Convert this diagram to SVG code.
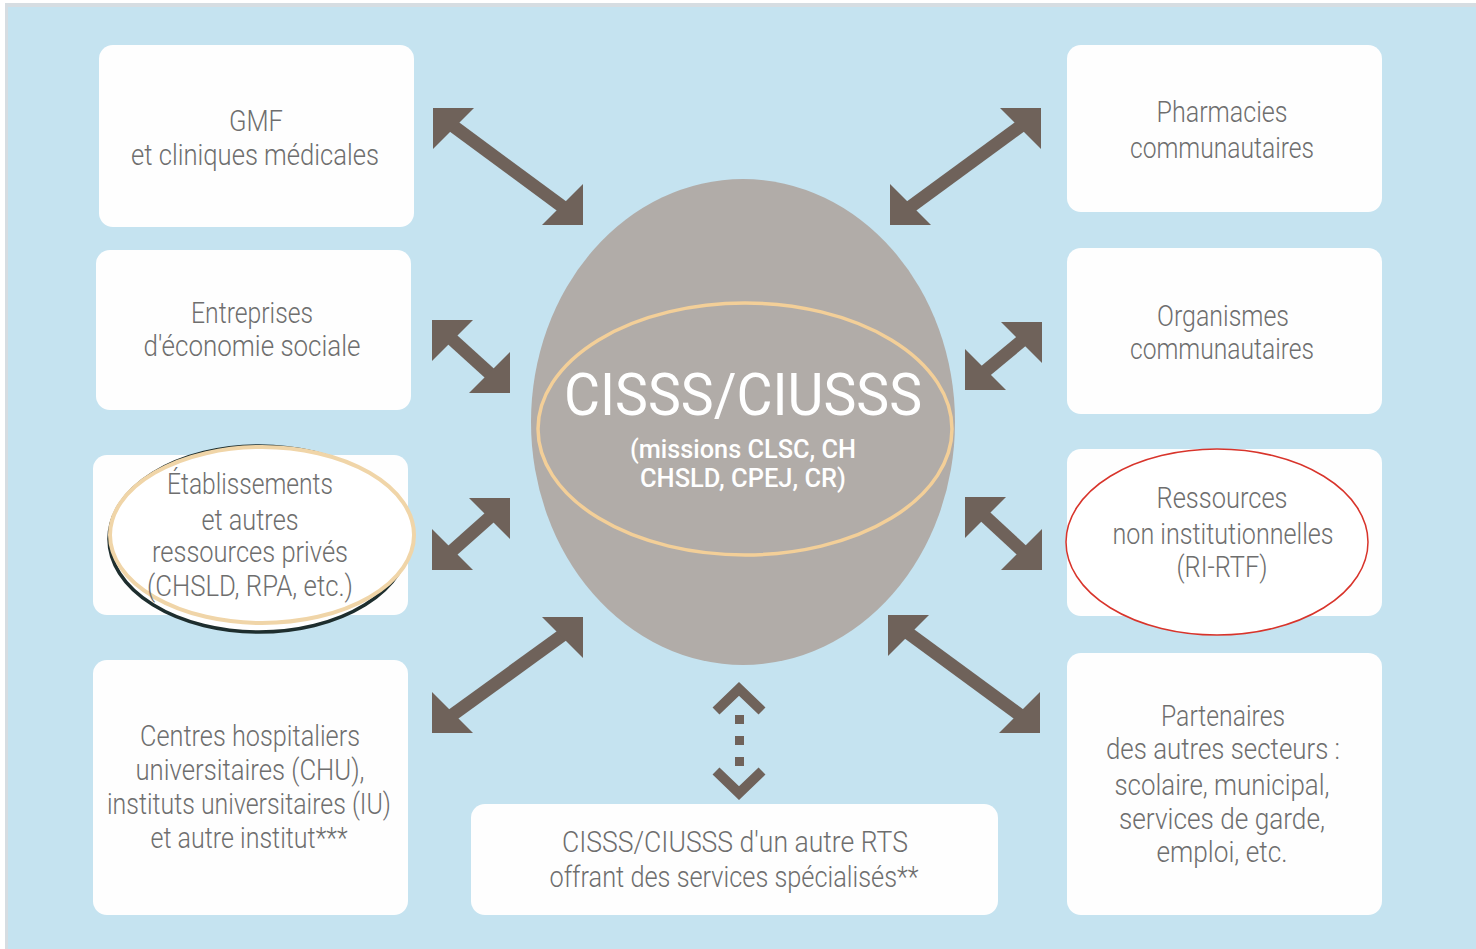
<svg xmlns="http://www.w3.org/2000/svg" width="1476" height="949" viewBox="0 0 1476 949">
<style>
.box{fill:#fefefe}
.t{font-family:Roboto,"Liberation Sans",sans-serif;font-weight:300;font-size:29px;fill:#6e6e6e;text-anchor:middle}
.ar polygon{fill:#6f625a}
.ar line{stroke:#6f625a;stroke-width:13}
.ct{font-family:Roboto,"Liberation Sans",sans-serif;fill:#ffffff;text-anchor:middle}
</style>
<rect x="0" y="0" width="1476" height="949" fill="#ffffff"/>
<rect x="5" y="3" width="1471" height="946" fill="#d6dde2"/>
<rect x="8" y="7" width="1468" height="942" fill="#c5e3f0"/>

<g id="connectors" class="ar">
<g id="a1"><line x1="445" y1="120" x2="571" y2="213"/><polygon points="433,108 474,108 433,149"/><polygon points="583,225 542,225 583,184"/></g>
<g id="a2"><line x1="444" y1="332" x2="498" y2="381"/><polygon points="432,320 473,320 432,361"/><polygon points="510,393 469,393 510,352"/></g>
<g id="a3"><line x1="444" y1="558" x2="498" y2="510"/><polygon points="432,570 473,570 432,529"/><polygon points="510,498 469,498 510,539"/></g>
<g id="a4"><line x1="444" y1="721" x2="571" y2="629"/><polygon points="432,733 473,733 432,692"/><polygon points="583,617 542,617 583,658"/></g>
<g id="a5"><line x1="902" y1="213" x2="1029" y2="120"/><polygon points="890,225 931,225 890,184"/><polygon points="1041,108 1000,108 1041,149"/></g>
<g id="a6"><line x1="977" y1="378" x2="1030" y2="334"/><polygon points="965,390 1006,390 965,349"/><polygon points="1042,322 1001,322 1042,363"/></g>
<g id="a7"><line x1="977" y1="509" x2="1030" y2="558"/><polygon points="965,497 1006,497 965,538"/><polygon points="1042,570 1001,570 1042,529"/></g>
<g id="a8"><line x1="900" y1="627" x2="1028" y2="721"/><polygon points="888,615 929,615 888,656"/><polygon points="1040,733 999,733 1040,692"/></g>
<g id="a9">
<polyline points="716,711 739,689 762,711" fill="none" stroke="#6f625a" stroke-width="10"/>
<rect x="735" y="715" width="9" height="9" fill="#6f625a"/>
<rect x="735" y="736" width="9" height="9" fill="#6f625a"/>
<rect x="735" y="757" width="9" height="9" fill="#6f625a"/>
<polyline points="716,771 739,793 762,771" fill="none" stroke="#6f625a" stroke-width="10"/>
</g>
</g>

<g id="center">
<ellipse cx="743" cy="422" rx="212" ry="243" fill="#b1aca8"/>
<ellipse cx="745" cy="429" rx="207" ry="126" fill="none" stroke="#f3cf98" stroke-width="3.5"/>
<text class="ct" x="743" y="415" font-size="60" textLength="358" lengthAdjust="spacingAndGlyphs">CISSS/CIUSSS</text>
<text class="ct" x="743" y="458" font-size="25" font-weight="500" textLength="226" lengthAdjust="spacingAndGlyphs">(missions CLSC, CH</text>
<text class="ct" x="743" y="487" font-size="25" font-weight="500" textLength="206" lengthAdjust="spacingAndGlyphs">CHSLD, CPEJ, CR)</text>
</g>

<g id="n1">
<rect class="box" x="99" y="45" width="315" height="182" rx="14"/>
<text class="t" x="256" y="131" textLength="54" lengthAdjust="spacingAndGlyphs">GMF</text>
<text class="t" x="255" y="165" textLength="248" lengthAdjust="spacingAndGlyphs">et cliniques médicales</text>
</g>
<g id="n2">
<rect class="box" x="96" y="250" width="315" height="160" rx="14"/>
<text class="t" x="252" y="323" textLength="122" lengthAdjust="spacingAndGlyphs">Entreprises</text>
<text class="t" x="252" y="356" textLength="217" lengthAdjust="spacingAndGlyphs">d'économie sociale</text>
</g>
<g id="n3">
<rect class="box" x="93" y="455" width="315" height="160" rx="14"/>
<ellipse cx="259" cy="539" rx="150" ry="93" fill="#ffffff" stroke="#1e2e2e" stroke-width="3.5"/>
<ellipse cx="262" cy="535" rx="152" ry="88" fill="#ffffff" stroke="#f0d5a8" stroke-width="4"/>
<text class="t" x="250" y="494" textLength="166" lengthAdjust="spacingAndGlyphs">Établissements</text>
<text class="t" x="250" y="530" textLength="97" lengthAdjust="spacingAndGlyphs">et autres</text>
<text class="t" x="250" y="562" textLength="196" lengthAdjust="spacingAndGlyphs">ressources privés</text>
<text class="t" x="250" y="596" textLength="206" lengthAdjust="spacingAndGlyphs">(CHSLD, RPA, etc.)</text>
</g>
<g id="n4">
<rect class="box" x="93" y="660" width="315" height="255" rx="14"/>
<text class="t" x="250" y="746" textLength="220" lengthAdjust="spacingAndGlyphs">Centres hospitaliers</text>
<text class="t" x="250" y="780" textLength="229" lengthAdjust="spacingAndGlyphs">universitaires (CHU),</text>
<text class="t" x="249" y="814" textLength="284" lengthAdjust="spacingAndGlyphs">instituts universitaires (IU)</text>
<text class="t" x="249" y="848" textLength="197" lengthAdjust="spacingAndGlyphs">et autre institut***</text>
</g>
<g id="n5">
<rect class="box" x="1067" y="45" width="315" height="167" rx="14"/>
<text class="t" x="1222" y="122" textLength="131" lengthAdjust="spacingAndGlyphs">Pharmacies</text>
<text class="t" x="1222" y="158" textLength="184" lengthAdjust="spacingAndGlyphs">communautaires</text>
</g>
<g id="n6">
<rect class="box" x="1067" y="248" width="315" height="166" rx="14"/>
<text class="t" x="1223" y="326" textLength="132" lengthAdjust="spacingAndGlyphs">Organismes</text>
<text class="t" x="1222" y="359" textLength="184" lengthAdjust="spacingAndGlyphs">communautaires</text>
</g>
<g id="n7">
<rect class="box" x="1067" y="449" width="315" height="167" rx="14"/>
<ellipse cx="1217" cy="542" rx="151" ry="93" fill="#ffffff" stroke="#d8342b" stroke-width="1.5"/>
<text class="t" x="1222" y="508" textLength="131" lengthAdjust="spacingAndGlyphs">Ressources</text>
<text class="t" x="1223" y="544" textLength="221" lengthAdjust="spacingAndGlyphs">non institutionnelles</text>
<text class="t" x="1222" y="577" textLength="91" lengthAdjust="spacingAndGlyphs">(RI-RTF)</text>
</g>
<g id="n8">
<rect class="box" x="1067" y="653" width="315" height="262" rx="14"/>
<text class="t" x="1223" y="726" textLength="124" lengthAdjust="spacingAndGlyphs">Partenaires</text>
<text class="t" x="1223" y="759" textLength="234" lengthAdjust="spacingAndGlyphs">des autres secteurs :</text>
<text class="t" x="1222" y="795" textLength="215" lengthAdjust="spacingAndGlyphs">scolaire, municipal,</text>
<text class="t" x="1222" y="829" textLength="206" lengthAdjust="spacingAndGlyphs">services de garde,</text>
<text class="t" x="1222" y="862" textLength="131" lengthAdjust="spacingAndGlyphs">emploi, etc.</text>
</g>
<g id="n9">
<rect class="box" x="471" y="804" width="527" height="111" rx="14"/>
<text class="t" x="735" y="852" textLength="346" lengthAdjust="spacingAndGlyphs">CISSS/CIUSSS d'un autre RTS</text>
<text class="t" x="734" y="887" textLength="369" lengthAdjust="spacingAndGlyphs">offrant des services spécialisés**</text>
</g>
</svg>
